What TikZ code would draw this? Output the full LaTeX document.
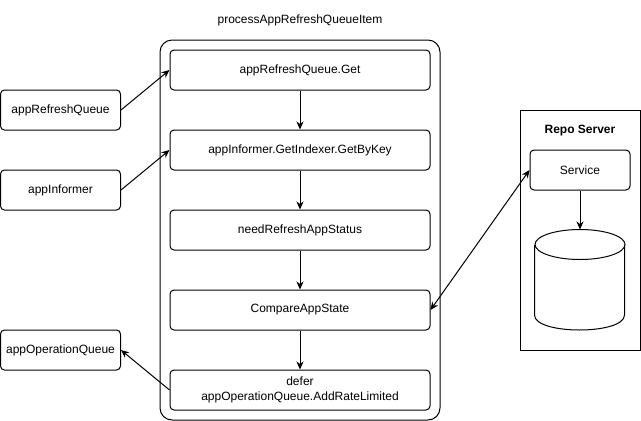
\documentclass[tikz,border=0pt]{standalone}
\usepackage{fontspec}
\setmainfont{Liberation Sans}
\usetikzlibrary{arrows.meta}
\begin{document}
\begin{tikzpicture}[x=1pt,y=-1pt,line width=1pt,
  txt/.style={font=\fontsize{12}{15}\selectfont, align=center},
  box/.style={draw, rounded corners=4pt, minimum width=260pt, minimum height=40pt, inner sep=0pt, txt},
  sbox/.style={box, minimum width=120pt},
  arr/.style={-{Stealth[length=8pt,width=7pt,inset=2.5pt]}},
  darr/.style={{Stealth[length=8pt,width=7pt,inset=2.5pt]}-{Stealth[length=8pt,width=7pt,inset=2.5pt]}}]
\useasboundingbox (0,0) rectangle (641,421);
% outer container
\node[draw, rounded corners=12pt, minimum width=280pt, minimum height=380pt, inner sep=0pt] (outer) at (300,230) {};
\node[txt] (title) at (300,20) {processAppRefreshQueueItem};
% left boxes
\node[sbox] (arq) at (60.5,110) {appRefreshQueue};
\node[sbox] (ainf) at (60.5,190) {appInformer};
\node[sbox] (aoq) at (60.5,350) {appOperationQueue};
% inner steps
\node[box] (b1) at (300,70) {appRefreshQueue.Get};
\node[box] (b2) at (300,150) {appInformer.GetIndexer.GetByKey};
\node[box] (b3) at (300,230) {needRefreshAppStatus};
\node[box] (b4) at (300,310) {CompareAppState};
\node[box] (b5) at (300,390) {defer\\appOperationQueue.AddRateLimited};
% repo server
\node[draw, minimum width=120pt, minimum height=240pt, inner sep=0pt] (repo) at (580,230) {};
\node[txt, font=\fontsize{12}{15}\selectfont\bfseries] (repolabel) at (580,131) {Repo Server};
\node[box, minimum width=100pt] (svc) at (580,170) {Service};
\node[minimum width=90pt, minimum height=100pt, inner sep=0pt] (db) at (580,280) {};
\draw (db.north) ++(0,15) ellipse [x radius=45, y radius=15];
\draw (db.west) ++(0,-35) coordinate (dbtl) -- ++(0,70) coordinate (dbbl)
      .. controls ++(0,20) and ++(0,20) .. ++(90,0) coordinate (dbbr) -- ++(0,-70);
% connectors
\draw[arr] (arq.east) -- (b1.west);
\draw[arr] (ainf.east) -- (b2.west);
\draw[arr] (b5.west) -- (aoq.east);
\draw[arr] (b1.south) -- (b2.north);
\draw[arr] (b2.south) -- (b3.north);
\draw[arr] (b3.south) -- (b4.north);
\draw[arr] (b4.south) -- (b5.north);
\draw[darr] (b4.east) -- (svc.west);
\draw[arr] (svc.south) -- (db.north);
\end{tikzpicture}
\end{document}
